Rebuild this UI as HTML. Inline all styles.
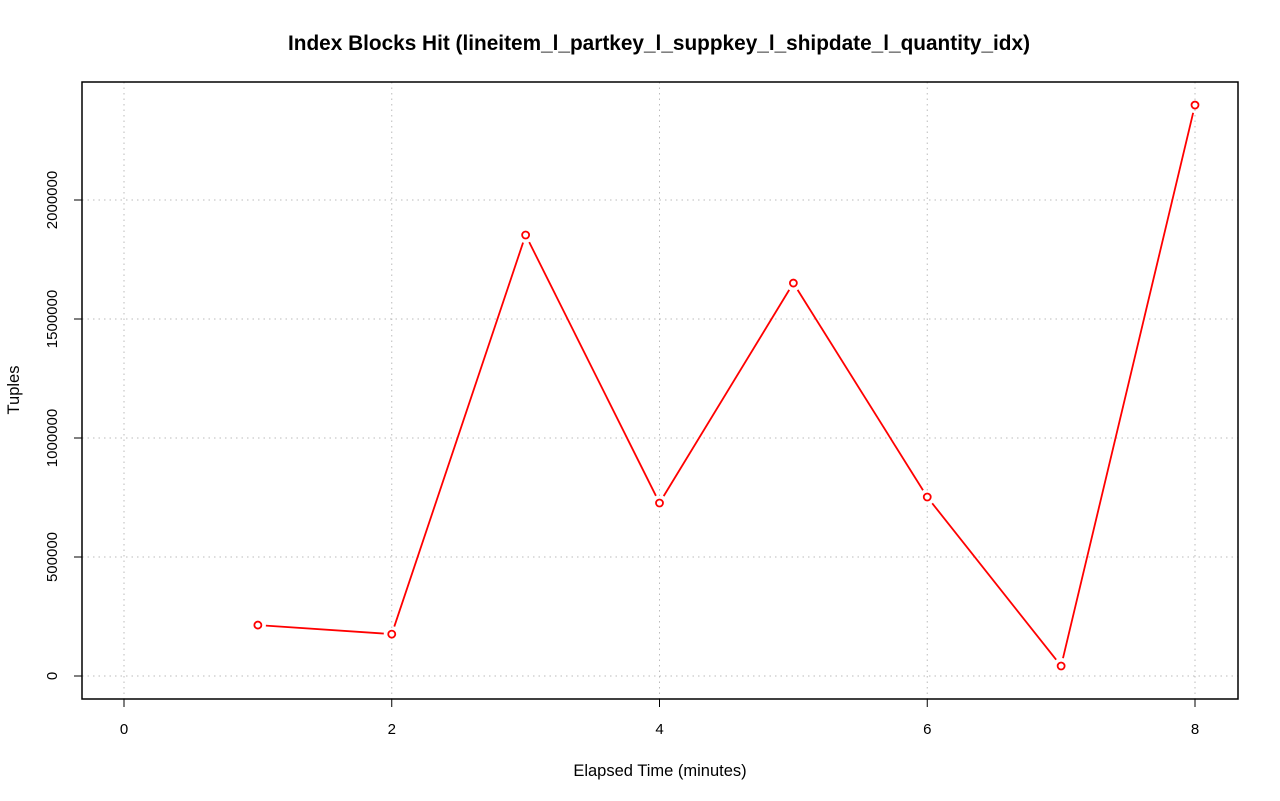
<!DOCTYPE html>
<html><head><meta charset="utf-8"><style>
html,body{margin:0;padding:0;background:#fff;}
svg{display:block;font-family:"Liberation Sans",sans-serif;}
</style></head><body>
<svg id="chart" width="1280" height="801" viewBox="0 0 1280 801" xmlns="http://www.w3.org/2000/svg">
<text x="659" y="50" text-anchor="middle" font-size="20.8" font-weight="bold">Index Blocks Hit (lineitem_l_partkey_l_suppkey_l_shipdate_l_quantity_idx)</text>
<text x="660" y="776" text-anchor="middle" font-size="16.5">Elapsed Time (minutes)</text>
<text x="19" y="390" text-anchor="middle" font-size="16.5" transform="rotate(-90 19 390)">Tuples</text>
<g id="grid"></g><g id="axes"></g><g id="series"></g>
<rect x="82" y="82" width="1156" height="617" fill="none" stroke="#000" stroke-width="1.5"/>
</svg>
<script>
const xValues=[1,2,3,4,5,6,7,8];
const yValues=[214000,176000,1853000,727000,1651000,752000,42000,2399000];
const xTicks=[0,2,4,6,8];
const yTicks=[0,500000,1000000,1500000,2000000];
const NS="http://www.w3.org/2000/svg";
function X(v){return 124+v*(1195-124)/8;}
function Y(v){return 676-v*(476/2000000);}
function mk(tag,attrs,parent){const e=document.createElementNS(NS,tag);for(const k in attrs)e.setAttribute(k,attrs[k]);parent.appendChild(e);return e;}
const grid=document.getElementById('grid'),axes=document.getElementById('axes'),series=document.getElementById('series');
xTicks.forEach(t=>{
  const l=mk('line',{x1:X(t),x2:X(t),y1:82,y2:699,stroke:'#bbb','stroke-dasharray':'1.5 4'},grid);
  
  
  const tk=mk('line',{x1:X(t),x2:X(t),y1:699,y2:707,stroke:'#000'},axes);
  
  
  const tx=mk('text',{x:X(t),y:734,'text-anchor':'middle','font-size':'15'},axes);tx.textContent=t;
  
  
});
mk('line',{x1:X(0),x2:X(8),y1:699,y2:699,stroke:'#000'},axes);
yTicks.forEach(t=>{
  const l=mk('line',{x1:82,x2:1238,y1:Y(t),y2:Y(t),stroke:'#bbb','stroke-dasharray':'1.5 4'},grid);
  
  
  const tk=mk('line',{x1:74,x2:82,y1:Y(t),y2:Y(t),stroke:'#000'},axes);
  
  
  const tx=mk('text',{x:57,y:Y(t),'text-anchor':'middle','font-size':'15',transform:`rotate(-90 57 ${Y(t)})`},axes);tx.textContent=t;
  
  
});
for(let i=0;i<xValues.length-1;i++){
  const x1=X(xValues[i]),y1=Y(yValues[i]),x2=X(xValues[i+1]),y2=Y(yValues[i+1]);
  const d=Math.hypot(x2-x1,y2-y1),g=8,ux=(x2-x1)/d,uy=(y2-y1)/d;
  const s=mk('line',{x1:x1+ux*g,y1:y1+uy*g,x2:x2-ux*g,y2:y2-uy*g,stroke:'#f00','stroke-width':'1.8'},series);
  
  
}
xValues.forEach((v,i)=>{
  const c=mk('circle',{cx:X(v),cy:Y(yValues[i]),r:3.5,fill:'#fff',stroke:'#f00','stroke-width':'1.8'},series);
  
  
});
</script>
</body></html>
